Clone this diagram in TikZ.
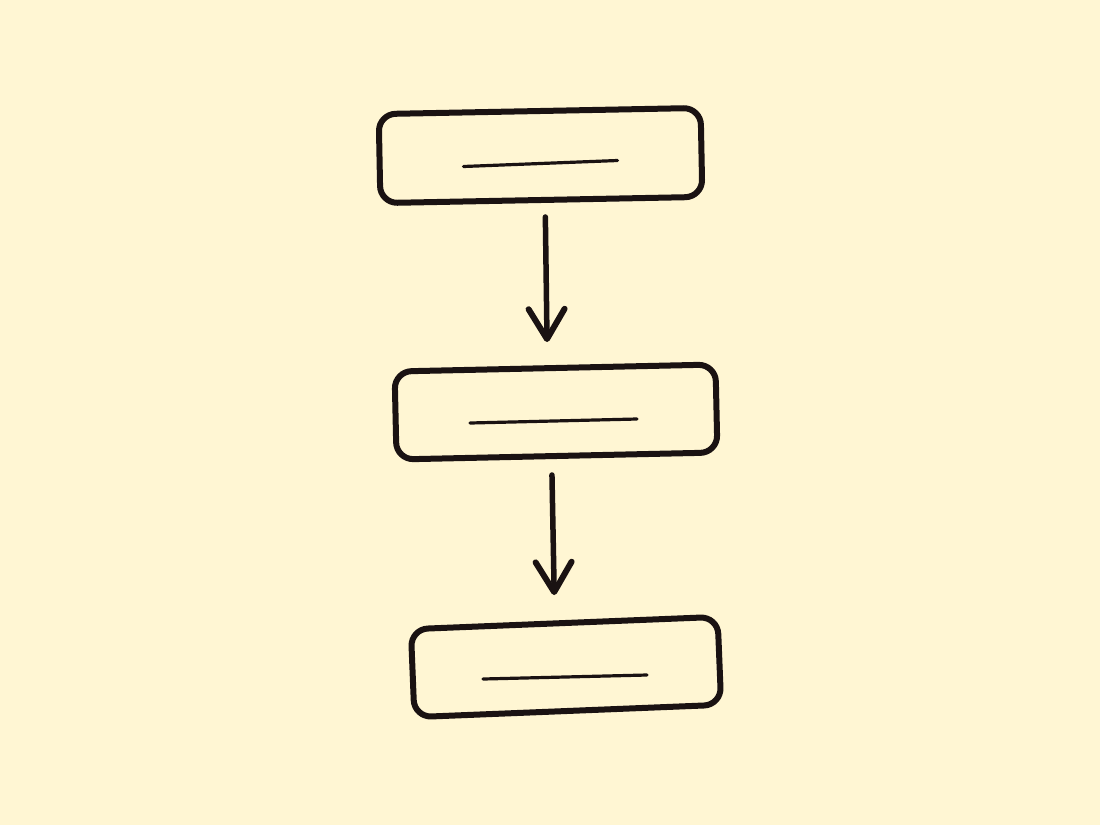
\documentclass[tikz,border=0pt]{standalone}
\usetikzlibrary{arrows.meta,calc}
\definecolor{bgcream}{HTML}{FFF6D3}
\definecolor{ink}{HTML}{1A1212}
\tikzset{
  sketchbox/.style={draw=ink, line width=6pt, rounded corners=17pt, inner sep=0pt, outer sep=0pt},
  textbar/.style={draw=ink, line width=3.2pt, line cap=round},
  flowarrow/.style={draw=ink, line width=5.5pt, line cap=round,
    -{Straight Barb[length=30pt, width=36pt, round, line width=6pt]}}
}
\begin{document}
\begin{tikzpicture}[x=1pt, y=-1pt]
\fill[bgcream] (0,0) rectangle (1100,825);
\useasboundingbox (0,0) rectangle (1100,825);

\node[sketchbox, minimum width=322pt, minimum height=89pt, rotate=1.1] (b1) at (540.5,155.5) {};
\node[sketchbox, minimum width=321pt, minimum height=88pt, rotate=1.25] (b2) at (556,412) {};
\node[sketchbox, minimum width=307pt, minimum height=88pt, rotate=2.3] (b3) at (566,667) {};

\draw[textbar] ($(b1.center)+(-77,11)$) -- ($(b1.center)+(77,5)$);
\draw[textbar] ($(b2.center)+(-86,11)$) -- ($(b2.center)+(81,7)$);
\draw[textbar] ($(b3.center)+(-83,12)$) -- ($(b3.center)+(81,8)$);

\draw[flowarrow] ($(b1.south)+(4,17)$) -- ($(b2.north)+(-8,-26)$);
\draw[flowarrow] ($(b2.south)+(-5,19)$) -- ($(b3.north)+(-10,-28)$);
\end{tikzpicture}
\end{document}
